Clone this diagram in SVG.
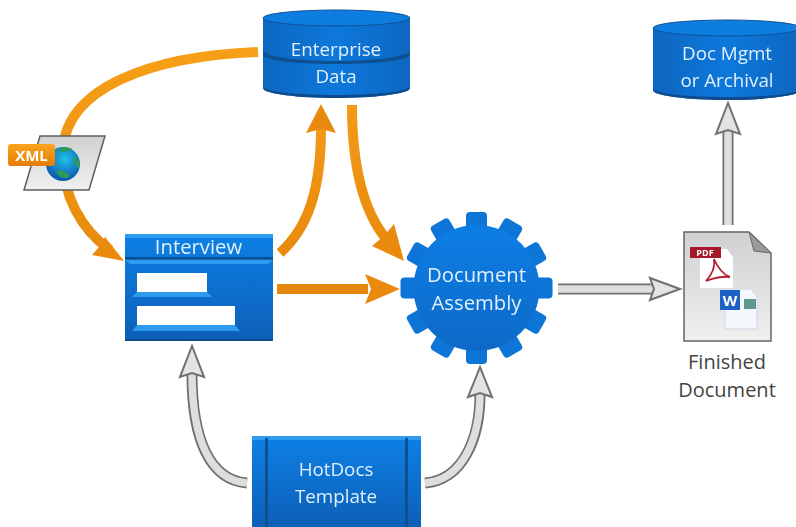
<svg xmlns="http://www.w3.org/2000/svg" xmlns:xlink="http://www.w3.org/1999/xlink" width="796" height="527" viewBox="0 0 796 527">
<style>
text{font-family:"Open Sans","Noto Sans","Liberation Sans",sans-serif}
.lbl{fill:#e2effc;font-size:18.800px;text-anchor:middle}
.big{font-size:20.300px}
.dark{fill:#444;font-size:20px;text-anchor:middle}
.or{fill:none;stroke:url(#org);stroke-width:10}
.orh{fill:#e98a0c}
.go{fill:none;stroke:#6f6f6f;stroke-width:11}
.gi{fill:none;stroke:#dedede;stroke-width:7.5}
.gh{fill:#e4e4e4;stroke:#6f6f6f;stroke-width:2;stroke-linejoin:miter}
.bev{fill:#2f9bee}
</style>
<defs>
<linearGradient id="org" gradientUnits="userSpaceOnUse" x1="0" y1="40" x2="0" y2="300"><stop offset="0" stop-color="#f8a01a"/><stop offset="1" stop-color="#e5860a"/></linearGradient>
<linearGradient id="bl" x1="0" y1="0" x2="0" y2="1"><stop offset="0" stop-color="#0a80e6"/><stop offset="1" stop-color="#0a5fb6"/></linearGradient>
<linearGradient id="cyl" x1="0" y1="0" x2="1" y2="0"><stop offset="0" stop-color="#0a66bf"/><stop offset=".5" stop-color="#0a78dc"/><stop offset="1" stop-color="#0a66bf"/></linearGradient>
<linearGradient id="pg" x1="0" y1="0" x2="0" y2="1"><stop offset="0" stop-color="#cfd0d1"/><stop offset="1" stop-color="#f0f0f0"/></linearGradient>
<linearGradient id="gear" gradientUnits="userSpaceOnUse" x1="0" y1="212" x2="0" y2="364"><stop offset="0" stop-color="#0a7fe8"/><stop offset="1" stop-color="#0a68c4"/></linearGradient>
<radialGradient id="gl" cx=".55" cy=".35" r=".7"><stop offset="0" stop-color="#22c0e8"/><stop offset="1" stop-color="#0a4fa8"/></radialGradient>
<linearGradient id="tag" x1="0" y1="0" x2="0" y2="1"><stop offset="0" stop-color="#fba41e"/><stop offset="1" stop-color="#e57d06"/></linearGradient>
<filter id="soft" x="-5%" y="-5%" width="110%" height="110%"><feGaussianBlur stdDeviation=".5"/></filter>
<rect id="tooth" x="-10.500" y="-76" width="21" height="26" rx="4"/>
</defs>

<g id="connectors" filter="url(#soft)">
<path class="or" d="M258,52 C150,56 66,88 63,150 C61,196 82,230 110,250"/>
<polygon class="orh" points="124,261 92,255 99,247 105,237"/>
<path class="or" d="M280,253 C308,228 321,190 321,128"/>
<polygon class="orh" points="321,104 336,133 321,129 306,133"/>
<path class="or" d="M352,105 C352,160 362,210 387,240"/>
<polygon class="orh" points="404,261 372,246 384,236 394,224"/>
<path class="or" d="M277,289 L368,289"/>
<polygon class="orh" points="400,289 365,274 371,289 365,304"/>

<path class="go" d="M558,289 L652,289"/><path class="gi" d="M558,289 L654,289"/>
<polygon class="gh" points="680,289 650,278 654,289 650,300"/>
<path class="go" d="M728,225 L728,131"/><path class="gi" d="M728,225 L728,129"/>
<polygon class="gh" points="728,103 716,134 728,130 740,134"/>
<path class="go" d="M247,483 C210,480 192,440 192,374"/><path class="gi" d="M247,483 C210,480 192,440 192,372"/>
<polygon class="gh" points="192,346 180,377 192,373 204,377"/>
<path class="go" d="M425,483 C462,480 480,440 480,394"/><path class="gi" d="M425,483 C462,480 480,440 480,392"/>
<polygon class="gh" points="480,367 468,397 480,393 492,397"/>
</g>

<g id="enterprise-data" filter="url(#soft)">
<path d="M263,18 V88 C263,94 300,98 336,98 C372,98 410,94 410,88 V18 Z" fill="url(#cyl)"/>
<path d="M263,50 C263,57 300,61 336,61 C372,61 410,57 410,50 V54 C410,61 372,64 336,64 C300,64 263,61 263,54 Z" fill="#07508f"/>
<path d="M263,88 C263,94 300,98 336,98 C372,98 410,94 410,88 V86 C410,92 372,95 336,95 C300,95 263,92 263,86 Z" fill="#084c8c"/>
<ellipse cx="336.500" cy="18" rx="73.500" ry="8" fill="#0a7ee0" stroke="#0a5199" stroke-width="1"/>
<text class="lbl" x="336" y="56">Enterprise</text>
<text class="lbl" x="336" y="83">Data</text>
</g>

<g id="doc-mgmt" filter="url(#soft)">
<path d="M653,28 V90 C653,96 690,100 727,100 C764,100 801,96 801,90 V28 Z" fill="url(#cyl)"/>
<path d="M653,90 C653,96 690,100 727,100 C764,100 801,96 801,90 V88 C801,94 764,97 727,97 C690,97 653,94 653,88 Z" fill="#084c8c"/>
<ellipse cx="727" cy="28" rx="74" ry="8" fill="#0a7ee0" stroke="#0a5199" stroke-width="1"/>
<text class="lbl" x="727" y="60">Doc Mgmt</text>
<text class="lbl" x="727" y="87">or Archival</text>
</g>

<g id="xml" filter="url(#soft)">
<polygon points="40,136 105,136 89,190 24,190" fill="url(#pg)" stroke="#5e5e5e" stroke-width="1.500"/>
<circle cx="63" cy="164" r="17" fill="url(#gl)"/>
<path d="M56,172 C60,169 66,171 70,176 C66,180 59,178 56,172 Z M74,158 C78,157 80,160 79,168 C76,167 73,163 74,158 Z M58,150 C62,147 68,147 72,149 C68,152 62,153 58,150 Z" fill="#2e9a58"/>
<rect x="8" y="144" width="47" height="22" rx="3" fill="url(#tag)"/>
<text x="31.500" y="161" text-anchor="middle" font-size="15" font-weight="700" style="fill:#fff">XML</text>
</g>

<g id="interview" filter="url(#soft)">
<rect x="125" y="234" width="148" height="107" fill="url(#bl)"/>
<rect x="125" y="234" width="148" height="4" class="bev"/>
<rect x="125" y="257" width="148" height="2.500" fill="#07508f"/>
<polygon points="125,260 273,260 268,264 130,264" class="bev"/>
<polygon points="137,292 207,292 212,297 132,297" class="bev"/>
<polygon points="137,325 235,325 240,331 132,331" class="bev"/>
<rect x="125" y="339" width="148" height="2" fill="#084c8c"/>
<rect x="137" y="273" width="70" height="19" fill="#fff"/>
<rect x="137" y="306" width="98" height="19" fill="#fff"/>
<text class="lbl big" x="198.500" y="254">Interview</text>
</g>

<g id="document-assembly" filter="url(#soft)">
<g fill="#0a74d8">
<use xlink:href="#tooth" transform="translate(476.500,288)"/>
<use xlink:href="#tooth" transform="translate(476.500,288) rotate(30)"/>
<use xlink:href="#tooth" transform="translate(476.500,288) rotate(60)"/>
<use xlink:href="#tooth" transform="translate(476.500,288) rotate(90)"/>
<use xlink:href="#tooth" transform="translate(476.500,288) rotate(120)"/>
<use xlink:href="#tooth" transform="translate(476.500,288) rotate(150)"/>
<use xlink:href="#tooth" transform="translate(476.500,288) rotate(180)"/>
<use xlink:href="#tooth" transform="translate(476.500,288) rotate(210)"/>
<use xlink:href="#tooth" transform="translate(476.500,288) rotate(240)"/>
<use xlink:href="#tooth" transform="translate(476.500,288) rotate(270)"/>
<use xlink:href="#tooth" transform="translate(476.500,288) rotate(300)"/>
<use xlink:href="#tooth" transform="translate(476.500,288) rotate(330)"/>
</g>
<circle cx="476.500" cy="288" r="63" fill="url(#gear)"/>
<text class="lbl big" x="476.500" y="282">Document</text>
<text class="lbl big" x="476.500" y="310">Assembly</text>
</g>

<g id="finished-document" filter="url(#soft)">
<polygon points="684,232 749,232 771,253 771,341 684,341" fill="url(#pg)" stroke="#666" stroke-width="1.500"/>
<polygon points="749,232 771,253 754,251" fill="#9a9a9a" stroke="#666"/>
<polygon points="700,249 727,249 733,257 733,288 700,288" fill="#fff"/>
<rect x="690" y="247" width="31" height="11" fill="#a8182a"/>
<text x="705" y="256" text-anchor="middle" font-size="9" font-weight="700" style="fill:#fff">PDF</text>
<path d="M706,281 C714,272 715,264 714,259 C718,268 724,275 730,277 C722,276 714,278 706,281 Z" fill="none" stroke="#b3202c" stroke-width="1.800"/>
<polygon points="725,289 751,289 757,296 757,329 725,329" fill="#f4f7fb" stroke="#cdd6e0"/>
<rect x="720" y="290" width="20" height="20" fill="#1b62c4"/>
<text x="730" y="306" text-anchor="middle" font-size="15" font-weight="700" style="fill:#fff">W</text>
<rect x="744" y="299" width="12" height="10" fill="#5b9a8c"/>
</g>
<g id="finished-label">
<text class="dark" x="727" y="369">Finished</text>
<text class="dark" x="727" y="397">Document</text>
</g>

<g id="hotdocs-template" filter="url(#soft)">
<rect x="252" y="436" width="169" height="92" fill="url(#bl)"/>
<rect x="252" y="436" width="169" height="4" class="bev"/>
<rect x="265" y="438" width="3" height="90" fill="#07508f"/>
<rect x="405" y="438" width="3" height="90" fill="#07508f"/>
<text class="lbl" x="336" y="476">HotDocs</text>
<text class="lbl" x="336" y="503">Template</text>
</g>
</svg>
